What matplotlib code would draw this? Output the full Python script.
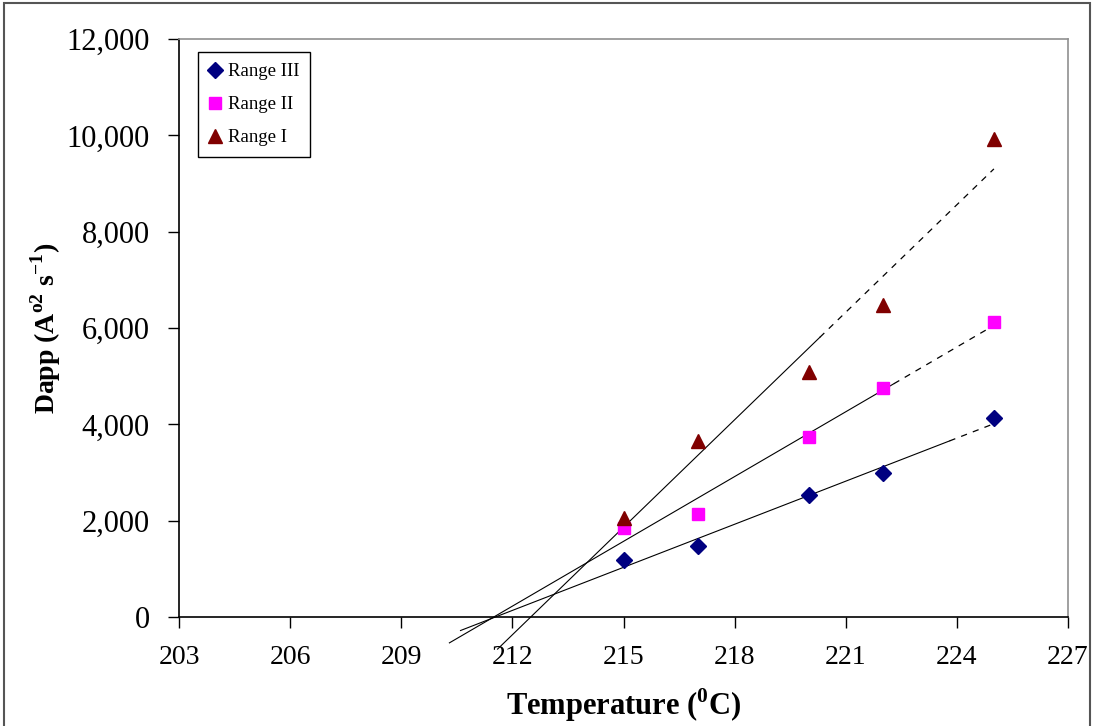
import matplotlib
matplotlib.use('Agg')
import matplotlib.pyplot as plt
from matplotlib.patches import Rectangle
from matplotlib.ticker import FuncFormatter
import numpy as np

# datos
temperatura = [215, 217, 220, 222, 225]
range_iii = [1185, 1483, 2523, 2988, 4132]
range_ii = [1851, 2142, 3743, 4756, 6121]
range_i = [2059, 3646, 5081, 6468, 9917]
series_names = ['Range III', 'Range II', 'Range I']

x_ticks = [203, 206, 209, 212, 215, 218, 221, 224, 227]
y_ticks = [0, 2000, 4000, 6000, 8000, 10000, 12000]

# extension de las lineas de tendencia (inicio, cambio a punteado, fin)
trend_start = [210.6, 210.3, 211.6]
trend_break = [223.8, 222.3, 220.3]
trend_end = 225

plt.rcParams['font.family'] = ['Liberation Serif', 'DejaVu Serif']
plt.rcParams['mathtext.fontset'] = 'custom'
plt.rcParams['mathtext.rm'] = 'Liberation Serif'
plt.rcParams['mathtext.bf'] = 'Liberation Serif:bold'

fig = plt.figure(figsize=(10.97, 7.26), dpi=100)
ax = fig.add_axes([179/1097, 1 - 617/726, (1068 - 179)/1097, (617 - 39)/726])

# marco exterior
fig.patches.append(Rectangle((4/1097, -0.01), (1090 - 4)/1097, 1 - 3/726 + 0.01,
                             transform=fig.transFigure, fill=False,
                             edgecolor='#555555', linewidth=1.5))

colors = ['#000080', '#FF00FF', '#800000']
markers = ['D', 's', '^']
msizes = [8, 8, 10]
datos = [range_iii, range_ii, range_i]

for i in range(3):
    ax.plot(temperatura, datos[i], linestyle='none', marker=markers[i],
            markersize=msizes[i], color=colors[i], label=series_names[i], zorder=3)
    # linea de tendencia (ajuste lineal), solida y luego punteada
    m, b = np.polyfit(temperatura, datos[i], 1)
    xs = np.array([trend_start[i], trend_break[i]])
    ax.plot(xs, m*xs + b, color='black', linewidth=0.8, clip_on=False, zorder=2)
    xd = np.array([trend_break[i], trend_end])
    ax.plot(xd, m*xd + b, color='black', linewidth=0.9, linestyle=(0, (5, 5)),
            clip_on=False, zorder=2)

ax.set_xlim(203, 227)
ax.set_ylim(0, 12000)
ax.set_xticks(x_ticks)
ax.set_yticks(y_ticks)
ax.yaxis.set_major_formatter(FuncFormatter(lambda v, p: f'{int(v):,}'))
ax.tick_params(axis='both', direction='out', length=8, width=1, colors='black')
ax.tick_params(axis='x', pad=12, labelsize=20)
ax.tick_params(axis='y', pad=13, labelsize=22)

for s in ['top', 'right']:
    ax.spines[s].set_color('#909090')
    ax.spines[s].set_linewidth(1.2)
for s in ['left', 'bottom']:
    ax.spines[s].set_color('black')
    ax.spines[s].set_linewidth(1.2)

ax.set_xlabel(r'Temperature ($^{\mathbf{0}}$C)', fontsize=22, fontweight='bold', labelpad=12)
ax.set_ylabel(r'Dapp (A$^{\mathbf{o2}}$ s$^{\mathbf{-1}}$)', fontsize=20, fontweight='bold')
ax.yaxis.set_label_coords(-0.131, 0.5)

leg = ax.legend(loc='upper left', bbox_to_anchor=(0.021, 0.978), fontsize=13.5,
                frameon=True, fancybox=False, edgecolor='black', framealpha=1,
                handlelength=0.6, handletextpad=0.4, borderpad=0.6, labelspacing=0.85,
                borderaxespad=0)
leg.get_frame().set_linewidth(1.0)

fig.savefig('out.png', dpi=100)
